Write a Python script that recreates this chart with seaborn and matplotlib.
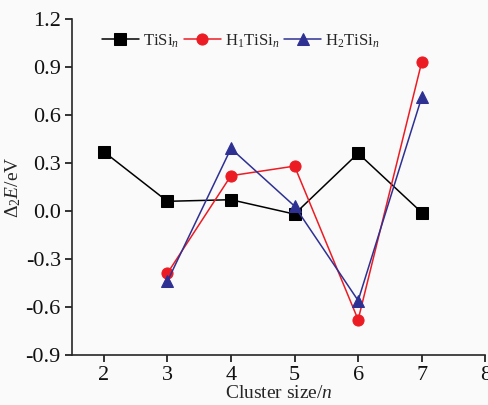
import pandas as pd
import matplotlib
matplotlib.use('Agg')
import matplotlib.pyplot as plt
import seaborn as sns

# Values
n_tisi = [2, 3, 4, 5, 6, 7]
e_tisi = [0.37, 0.06, 0.07, -0.02, 0.36, -0.01]
n_h1 = [3, 4, 5, 6, 7]
e_h1 = [-0.39, 0.22, 0.28, -0.68, 0.93]
n_h2 = [3, 4, 5, 6, 7]
e_h2 = [-0.44, 0.39, 0.03, -0.56, 0.71]

labels = ['TiSi$_{n}$', 'H$_1$TiSi$_{n}$', 'H$_2$TiSi$_{n}$']
colors = ['#000000', '#ec1c24', '#2e3192']
markers = ['s', 'o', '^']
y_ticks = [-0.9, -0.6, -0.3, 0.0, 0.3, 0.6, 0.9, 1.2]
x_ticks = [2, 3, 4, 5, 6, 7, 8]

sns.set_style('ticks')
plt.rcParams['font.family'] = ['Liberation Serif', 'DejaVu Serif']
plt.rcParams['mathtext.fontset'] = 'custom'
plt.rcParams['mathtext.rm'] = 'Liberation Serif'
plt.rcParams['mathtext.it'] = 'Liberation Serif:italic'
plt.rcParams['axes.linewidth'] = 1.2

fig = plt.figure(figsize=(4.88, 4.05), dpi=100)
fig.patch.set_facecolor('#fafafa')
ax = fig.add_axes([0.1475, 0.1235, 0.847, 0.83])
ax.set_facecolor('#fafafa')

series = [(n_tisi, e_tisi), (n_h1, e_h1), (n_h2, e_h2)]
for (xs, ys), lab, c, m in zip(series, labels, colors, markers):
    df = pd.DataFrame({'n': xs, 'E': ys})
    sns.lineplot(data=df, x='n', y='E', ax=ax, color=c, marker=m, markersize=8,
                 markeredgecolor=c, linewidth=1.1, label=lab)

ax.set_xlim(1.5, 8)
ax.set_ylim(-0.9, 1.2)
ax.set_xticks(x_ticks)
ax.set_yticks(y_ticks)
ax.set_yticklabels([f'{v:.1f}' for v in y_ticks])
ax.tick_params(axis='both', labelsize=16, direction='out', length=5, width=1.2,
               colors='#111111', pad=3)
sns.despine(ax=ax)

ax.set_xlabel('Cluster size/$\\mathit{n}$', fontsize=14, labelpad=0)
ax.set_ylabel('$\\Delta_2\\mathit{E}$/eV', fontsize=14, labelpad=2)

ax.legend(loc='upper left', bbox_to_anchor=(0.073, 0.96), ncol=3, frameon=False,
          fontsize=12, handlelength=2.2, columnspacing=0.3, handletextpad=0.25,
          borderaxespad=0, borderpad=0)

fig.savefig('out.png', dpi=100, facecolor=fig.get_facecolor())
